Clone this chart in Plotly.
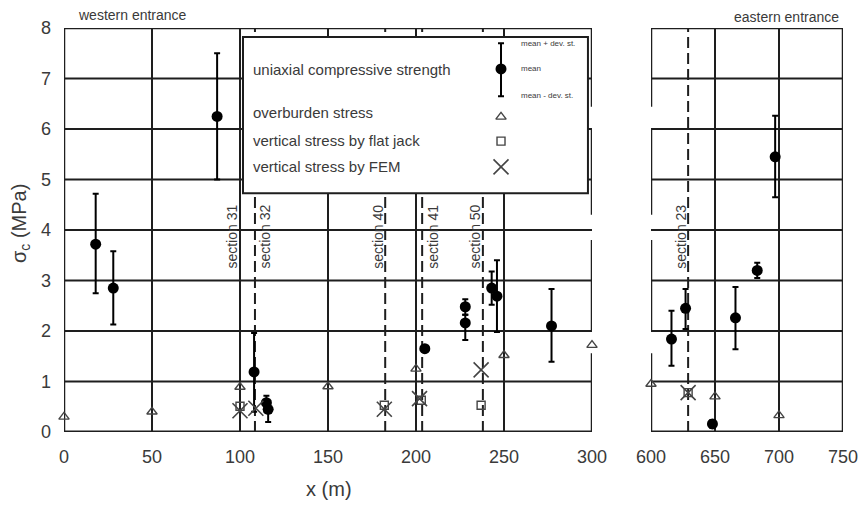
import plotly.graph_objects as go

# ---------------- data ----------------
# uniaxial compressive strength (mean, mean + dev.st., mean - dev.st.)
ucs_w_x = [18, 28, 87, 108, 115, 116, 205, 228, 228, 243, 246, 277]
ucs_w_mean = [3.72, 2.85, 6.25, 1.19, 0.58, 0.45, 1.65, 2.48, 2.16, 2.85, 2.69, 2.10]
ucs_w_upper = [4.72, 3.58, 7.50, 1.96, 0.72, 0.62, 1.70, 2.63, 2.32, 3.18, 3.40, 2.83]
ucs_w_lower = [2.75, 2.13, 5.00, 0.40, 0.40, 0.20, 1.60, 2.32, 1.82, 2.52, 1.98, 1.39]

ucs_e_x = [616, 627, 648, 666, 683, 697]
ucs_e_mean = [1.84, 2.45, 0.16, 2.26, 3.20, 5.45]
ucs_e_upper = [2.40, 2.83, 0.24, 2.87, 3.35, 6.26]
ucs_e_lower = [1.31, 2.04, 0.08, 1.64, 3.05, 4.65]

# overburden stress
ob_w_x = [0, 50, 100, 150, 200, 250, 300]
ob_w_y = [0.30, 0.40, 0.89, 0.90, 1.25, 1.52, 1.72]
ob_e_x = [600, 650, 700]
ob_e_y = [0.95, 0.70, 0.33]

# vertical stress by flat jack
fj_w_x = [100, 182, 203, 237]
fj_w_y = [0.51, 0.53, 0.63, 0.53]
fj_e_x = [629]
fj_e_y = [0.78]

# vertical stress by FEM
fem_w_x = [100, 109, 182, 202, 237]
fem_w_y = [0.42, 0.47, 0.45, 0.66, 1.23]
fem_e_x = [629]
fem_e_y = [0.78]

# sections
sec_w_names = ["section 31", "section 32", "section 40", "section 41", "section 50"]
sec_w_x = [100, 108.5, 182.5, 203.5, 238]
sec_w_side = [-1, 1, -1, 1, -1]
sec_e_names = ["section 23"]
sec_e_x = [629]
sec_e_side = [-1]

x_w_ticks = [0, 50, 100, 150, 200, 250, 300]
x_e_ticks = [600, 650, 700, 750]
y_ticks = [0, 1, 2, 3, 4, 5, 6, 7, 8]

# ---------------- style ----------------
W, H = 861, 505
FONT = "Arial, Liberation Sans, sans-serif"
TXT = "#3a3a3a"
LINE = "#1e1e1e"

fig = go.Figure()


def err(mean, up, lo):
    return dict(type="data", symmetric=False,
                array=[u - m for u, m in zip(up, mean)],
                arrayminus=[m - l for m, l in zip(mean, lo)],
                thickness=2, width=3, color="black")


for xa, ya, xs, ms, us, ls in [("x", "y", ucs_w_x, ucs_w_mean, ucs_w_upper, ucs_w_lower),
                               ("x2", "y2", ucs_e_x, ucs_e_mean, ucs_e_upper, ucs_e_lower)]:
    fig.add_trace(go.Scatter(x=xs, y=ms, mode="markers", xaxis=xa, yaxis=ya,
                             marker=dict(symbol="circle", size=11, color="black"),
                             error_y=err(ms, us, ls), cliponaxis=False,
                             showlegend=False))

for xa, ya, xs, ys in [("x", "y", ob_w_x, ob_w_y), ("x2", "y2", ob_e_x, ob_e_y)]:
    fig.add_trace(go.Scatter(x=xs, y=ys, mode="markers", xaxis=xa, yaxis=ya,
                             marker=dict(symbol="triangle-up-open", size=9,
                                         color="#444", line=dict(width=1.4)),
                             cliponaxis=False, showlegend=False))

for xa, ya, xs, ys in [("x", "y", fj_w_x, fj_w_y), ("x2", "y2", fj_e_x, fj_e_y)]:
    fig.add_trace(go.Scatter(x=xs, y=ys, mode="markers", xaxis=xa, yaxis=ya,
                             marker=dict(symbol="square-open", size=8,
                                         color="#444", line=dict(width=1.4)),
                             cliponaxis=False, showlegend=False))

for xa, ya, xs, ys in [("x", "y", fem_w_x, fem_w_y), ("x2", "y2", fem_e_x, fem_e_y)]:
    fig.add_trace(go.Scatter(x=xs, y=ys, mode="markers", xaxis=xa, yaxis=ya,
                             marker=dict(symbol="x-thin-open", size=15,
                                         color="#444", line=dict(width=1.6)),
                             cliponaxis=False, showlegend=False))

shapes = []


def seg(xr, yr, x0, y0, x1, y1, width=2, dash=None, layer="between", color=LINE):
    d = dict(type="line", xref=xr, yref=yr, x0=x0, y0=y0, x1=x1, y1=y1,
             layer=layer, line=dict(color=color, width=width))
    if dash:
        d["line"]["dash"] = dash
    shapes.append(d)


# grid lines
for v in x_w_ticks[1:-1]:
    seg("x", "y", v, 0, v, 8)
for v in x_e_ticks[1:-1]:
    seg("x2", "y2", v, 0, v, 8)
for v in y_ticks[1:-1]:
    seg("x", "y", 0, v, 300, v)
    seg("x2", "y2", 600, v, 750, v)

# section lines
for sx in sec_w_x:
    seg("x", "y", sx, 0, sx, 8, dash="11px,5px")
for sx in sec_e_x:
    seg("x2", "y2", sx, 0, sx, 8, dash="11px,5px")

# panel borders (with the break gaps of the original)
gap_segments = [(0, 1.56), (2.0, 3.8), (4.3, 6.02), (6.44, 8)]
seg("x", "y", 0, 0, 300, 0, width=3)
seg("x", "y", 0, 8, 300, 8, width=2.5)
seg("x", "y", 0, 0, 0, 8, width=2.5)
for a, b in gap_segments:
    seg("x", "y", 300, a, 300, b, width=2.5)
seg("x2", "y2", 600, 0, 750, 0, width=3)
seg("x2", "y2", 600, 8, 750, 8, width=2.5)
seg("x2", "y2", 750, 0, 750, 8, width=2.5)
for a, b in gap_segments:
    seg("x2", "y2", 600, a, 600, b, width=2.5)

# legend box
shapes.append(dict(type="rect", xref="x", yref="y", x0=101.7, x1=297.7, y0=4.73, y1=7.82,
                   layer="between", fillcolor="white", line=dict(color=LINE, width=2)))

annotations = []

# section labels
for names, xs, sides, xr, yr in [(sec_w_names, sec_w_x, sec_w_side, "x", "y"),
                                 (sec_e_names, sec_e_x, sec_e_side, "x2", "y2")]:
    for n, sx, sd in zip(names, xs, sides):
        annotations.append(dict(text=n, x=sx, y=3.87, xref=xr, yref=yr, showarrow=False,
                                textangle=-90, xshift=sd * 8 + (2 if sd > 0 else 0),
                                xanchor="center", yanchor="middle",
                                font=dict(family=FONT, size=14, color=TXT)))

# legend symbols (custom legend)
lx = 248.3
fig.add_trace(go.Scatter(x=[lx], y=[7.19], mode="markers", xaxis="x", yaxis="y",
                         marker=dict(symbol="circle", size=11, color="black"),
                         error_y=dict(type="data", symmetric=False, array=[0.51],
                                      arrayminus=[0.54], thickness=2, width=3, color="black"),
                         showlegend=False, hoverinfo="skip"))
fig.add_trace(go.Scatter(x=[lx], y=[6.24], mode="markers", xaxis="x", yaxis="y",
                         marker=dict(symbol="triangle-up-open", size=9, color="#444",
                                     line=dict(width=1.4)), showlegend=False, hoverinfo="skip"))
fig.add_trace(go.Scatter(x=[lx], y=[5.76], mode="markers", xaxis="x", yaxis="y",
                         marker=dict(symbol="square-open", size=8, color="#444",
                                     line=dict(width=1.4)), showlegend=False, hoverinfo="skip"))
fig.add_trace(go.Scatter(x=[lx], y=[5.25], mode="markers", xaxis="x", yaxis="y",
                         marker=dict(symbol="x-thin-open", size=15, color="#444",
                                     line=dict(width=1.6)), showlegend=False, hoverinfo="skip"))

legend_rows = [("uniaxial compressive strength", 7.17), ("overburden stress", 6.32),
               ("vertical stress by flat jack", 5.78), ("vertical stress by FEM", 5.25)]
for t, yy in legend_rows:
    annotations.append(dict(text=t, x=106.0, y=yy, xref="x", yref="y", xanchor="left",
                            yanchor="middle", showarrow=False,
                            font=dict(family=FONT, size=15, color=TXT)))
for t, yy in [("mean + dev. st.", 7.70), ("mean", 7.19), ("mean - dev. st.", 6.67)]:
    annotations.append(dict(text=t, x=258.5, y=yy, xref="x", yref="y", xanchor="left",
                            yanchor="middle", showarrow=False,
                            font=dict(family=FONT, size=8, color=TXT)))


def paper_text(t, px, py, size, angle=0):
    annotations.append(dict(text=t, x=px / W, y=1 - py / H, xref="paper", yref="paper",
                            xanchor="center", yanchor="middle", showarrow=False,
                            textangle=angle, font=dict(family=FONT, size=size, color=TXT)))


paper_text("western entrance", 132, 15, 14)
paper_text("eastern entrance", 786, 17, 14)
paper_text("σ<sub>c</sub> (MPa)", 21, 224, 20, angle=-90)
paper_text("x (m)", 329, 489, 20)

y_dom = [1 - 432 / H, 1 - 28 / H]
tickfont = dict(family=FONT, size=18, color=TXT)
common = dict(showgrid=False, zeroline=False, showline=False, ticks="", automargin=False)
fig.update_layout(
    width=W, height=H, margin=dict(l=0, r=0, t=0, b=0, autoexpand=False),
    paper_bgcolor="white", plot_bgcolor="white",
    shapes=shapes, annotations=annotations,
    xaxis=dict(domain=[64 / W, 592 / W], range=[0, 300], tickvals=x_w_ticks,
               tickfont=tickfont, ticklabelstandoff=12, anchor="y", **common),
    xaxis2=dict(domain=[651 / W, 843 / W], range=[600, 750], tickvals=x_e_ticks,
                tickfont=tickfont, ticklabelstandoff=12, anchor="y2", **common),
    yaxis=dict(domain=y_dom, range=[0, 8], tickvals=y_ticks, tickfont=tickfont,
               ticklabelstandoff=12, anchor="x", **common),
    yaxis2=dict(domain=y_dom, range=[0, 8], tickvals=y_ticks, showticklabels=False,
                anchor="x2", **common),
)

fig.write_html("out.html")
